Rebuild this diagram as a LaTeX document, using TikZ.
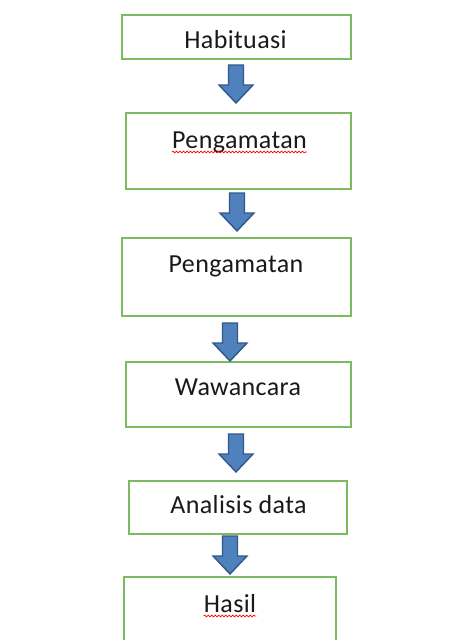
\documentclass[tikz,border=0pt]{standalone}
\usepackage{fontspec}
\setmainfont[LetterSpace=1.5]{Carlito}
\usetikzlibrary{decorations.pathmorphing}
\definecolor{boxgreen}{RGB}{125,187,97}
\definecolor{arrfill}{RGB}{79,129,189}
\definecolor{arrline}{RGB}{50,88,138}
\tikzset{
  flowbox/.style={draw=boxgreen, line width=2.6pt, fill=white, inner sep=0pt},
  lbl/.style={anchor=base, inner sep=0pt, text=black!90, font=\fontsize{26}{30}\selectfont},
  spell/.style={draw=red, line width=0.7pt, decorate, decoration={snake, segment length=3.5pt, amplitude=0.8pt}},
  pics/blockarrow/.style={code={
    \draw[fill=arrfill, draw=arrline, line width=1.4pt, line join=miter]
      (-7.5,0) -- (-7.5,20) -- (-17,20) -- (0,38) -- (17,20) -- (7.5,20) -- (7.5,0) -- cycle;}}
}
\begin{document}
\begin{tikzpicture}[x=1pt,y=-1pt]
\useasboundingbox (0,0) rectangle (465,640);
\clip (0,0) rectangle (465,640);
\fill[white] (0,0) rectangle (465,640);
% boxes
\node[flowbox, minimum width=229pt, minimum height=44pt] (b1) at (236.5,37) {};
\node[flowbox, minimum width=225pt, minimum height=76pt] (b2) at (238.5,151) {};
\node[flowbox, minimum width=229pt, minimum height=78pt] (b3) at (236.5,277) {};
\node[flowbox, minimum width=225pt, minimum height=65pt] (b4) at (238.5,394.5) {};
\node[flowbox, minimum width=218pt, minimum height=53pt] (b5) at (238,507.5) {};
\node[flowbox, minimum width=212pt, minimum height=100pt] (b6) at (230,627) {};
% texts
\node[lbl] (t1) at (235.5,48) {Habituasi};
\node[lbl] (t2) at (239.5,148) {Pengamatan};
\node[lbl] (t3) at (236,272) {Pengamatan};
\node[lbl] (t4) at (238,395) {Wawancara};
\node[lbl] (t5) at (238.5,513) {Analisis data};
\node[lbl] (t6) at (230,612) {Hasil};
% spell-check underlines
\draw[spell] ([yshift=-4pt]t2.base west) -- ([yshift=-4pt]t2.base east);
\draw[spell] ([yshift=-4pt]t6.base west) -- ([yshift=-4pt]t6.base east);
% block arrows
\pic (a1) at (236,65) {blockarrow};
\pic (a2) at (237,193) {blockarrow};
\pic (a3) at (230,323) {blockarrow};
\pic (a4) at (236,434) {blockarrow};
\pic (a5) at (230,536) {blockarrow};
\end{tikzpicture}
\end{document}
